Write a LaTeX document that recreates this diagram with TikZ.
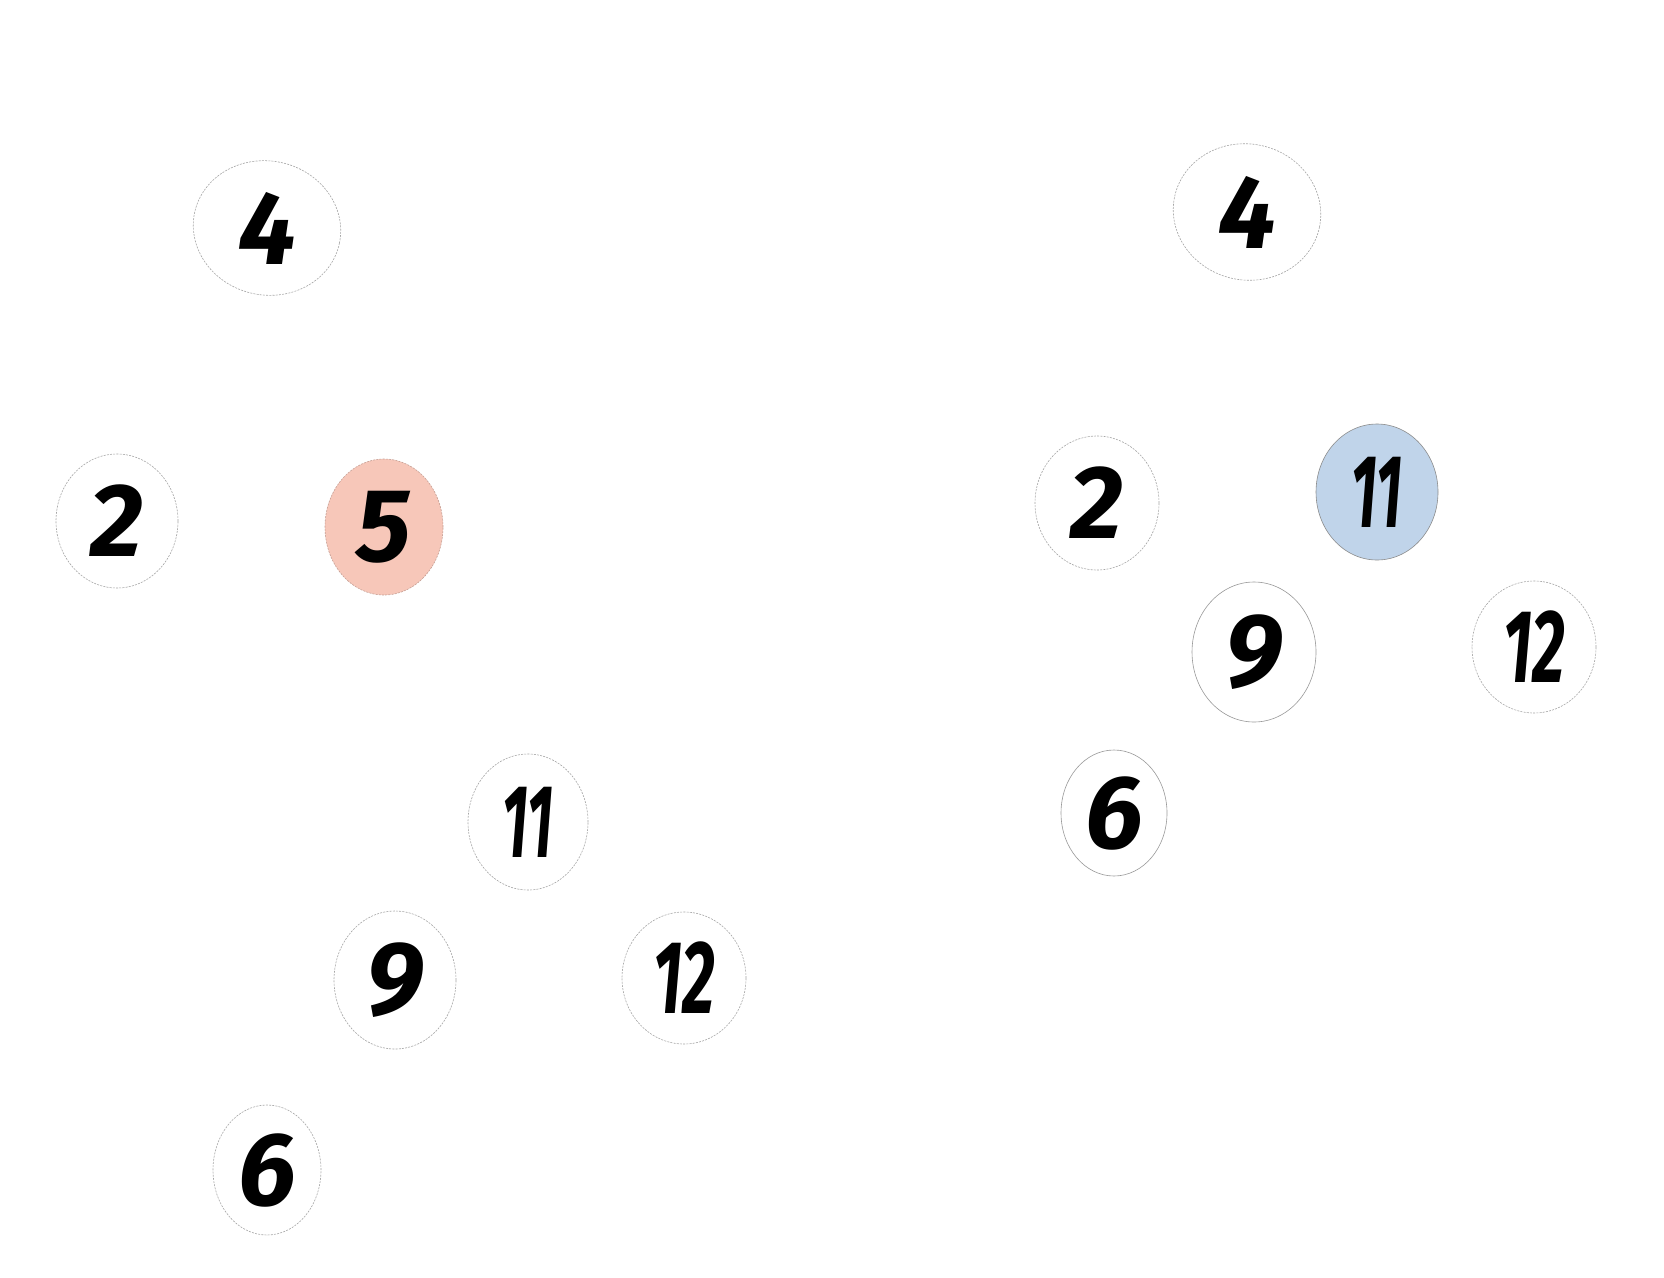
\documentclass[tikz,border=0pt]{standalone}
\usepackage{fontspec}
\setmainfont{Fira Sans}[Numbers=Proportional]
\usetikzlibrary{shapes.geometric}
\definecolor{salmon}{HTML}{F7C7B9}
\definecolor{paleblue}{HTML}{C0D4EA}
\newcommand{\narrow}[2]{\scalebox{#1}[1]{#2}}
\tikzset{
  num/.style={ellipse, inner sep=0pt, draw=black!35, line width=0.6pt,
    dash pattern=on 2pt off 1.2pt,
    font=\fontsize{104}{104}\selectfont\bfseries\itshape, text=black},
  solidnum/.style={num, solid, draw=black!40},
  sz/.style 2 args={minimum width=#1pt, minimum height=#2pt}
}
\begin{document}
\begin{tikzpicture}[x=1pt,y=-1pt]
\useasboundingbox[fill=white] (0,0) rectangle (1664,1277);
% left graph
\node[num, sz={148}{134}, rotate=-12] (L4) at (267,228) {\rotatebox{12}{4}};
\node[num, sz={122}{134}] (L2) at (117,521) {2};
\node[num, sz={118}{136}, fill=salmon, draw=salmon!80!black] (L5) at (384,527) {5};
\node[num, sz={120}{136}] (L11) at (528,822) {\narrow{0.55}{11}};
\node[num, sz={122}{138}] (L9) at (395,980) {9};
\node[num, sz={124}{132}] (L12) at (684,978) {\narrow{0.62}{12}};
\node[num, sz={108}{130}] (L6) at (267,1170) {6};
% right graph
\node[num, sz={148}{136}, rotate=-12] (R4) at (1247,212) {\rotatebox{12}{4}};
\node[num, sz={124}{134}] (R2) at (1097,503) {2};
\node[solidnum, sz={122}{136}, fill=paleblue, draw=black!45] (R11) at (1377,492) {\narrow{0.55}{11}};
\node[solidnum, sz={124}{140}] (R9) at (1254,652) {9};
\node[num, sz={124}{132}] (R12) at (1534,647) {\narrow{0.62}{12}};
\node[solidnum, sz={106}{126}] (R6) at (1114,813) {6};
\end{tikzpicture}
\end{document}
